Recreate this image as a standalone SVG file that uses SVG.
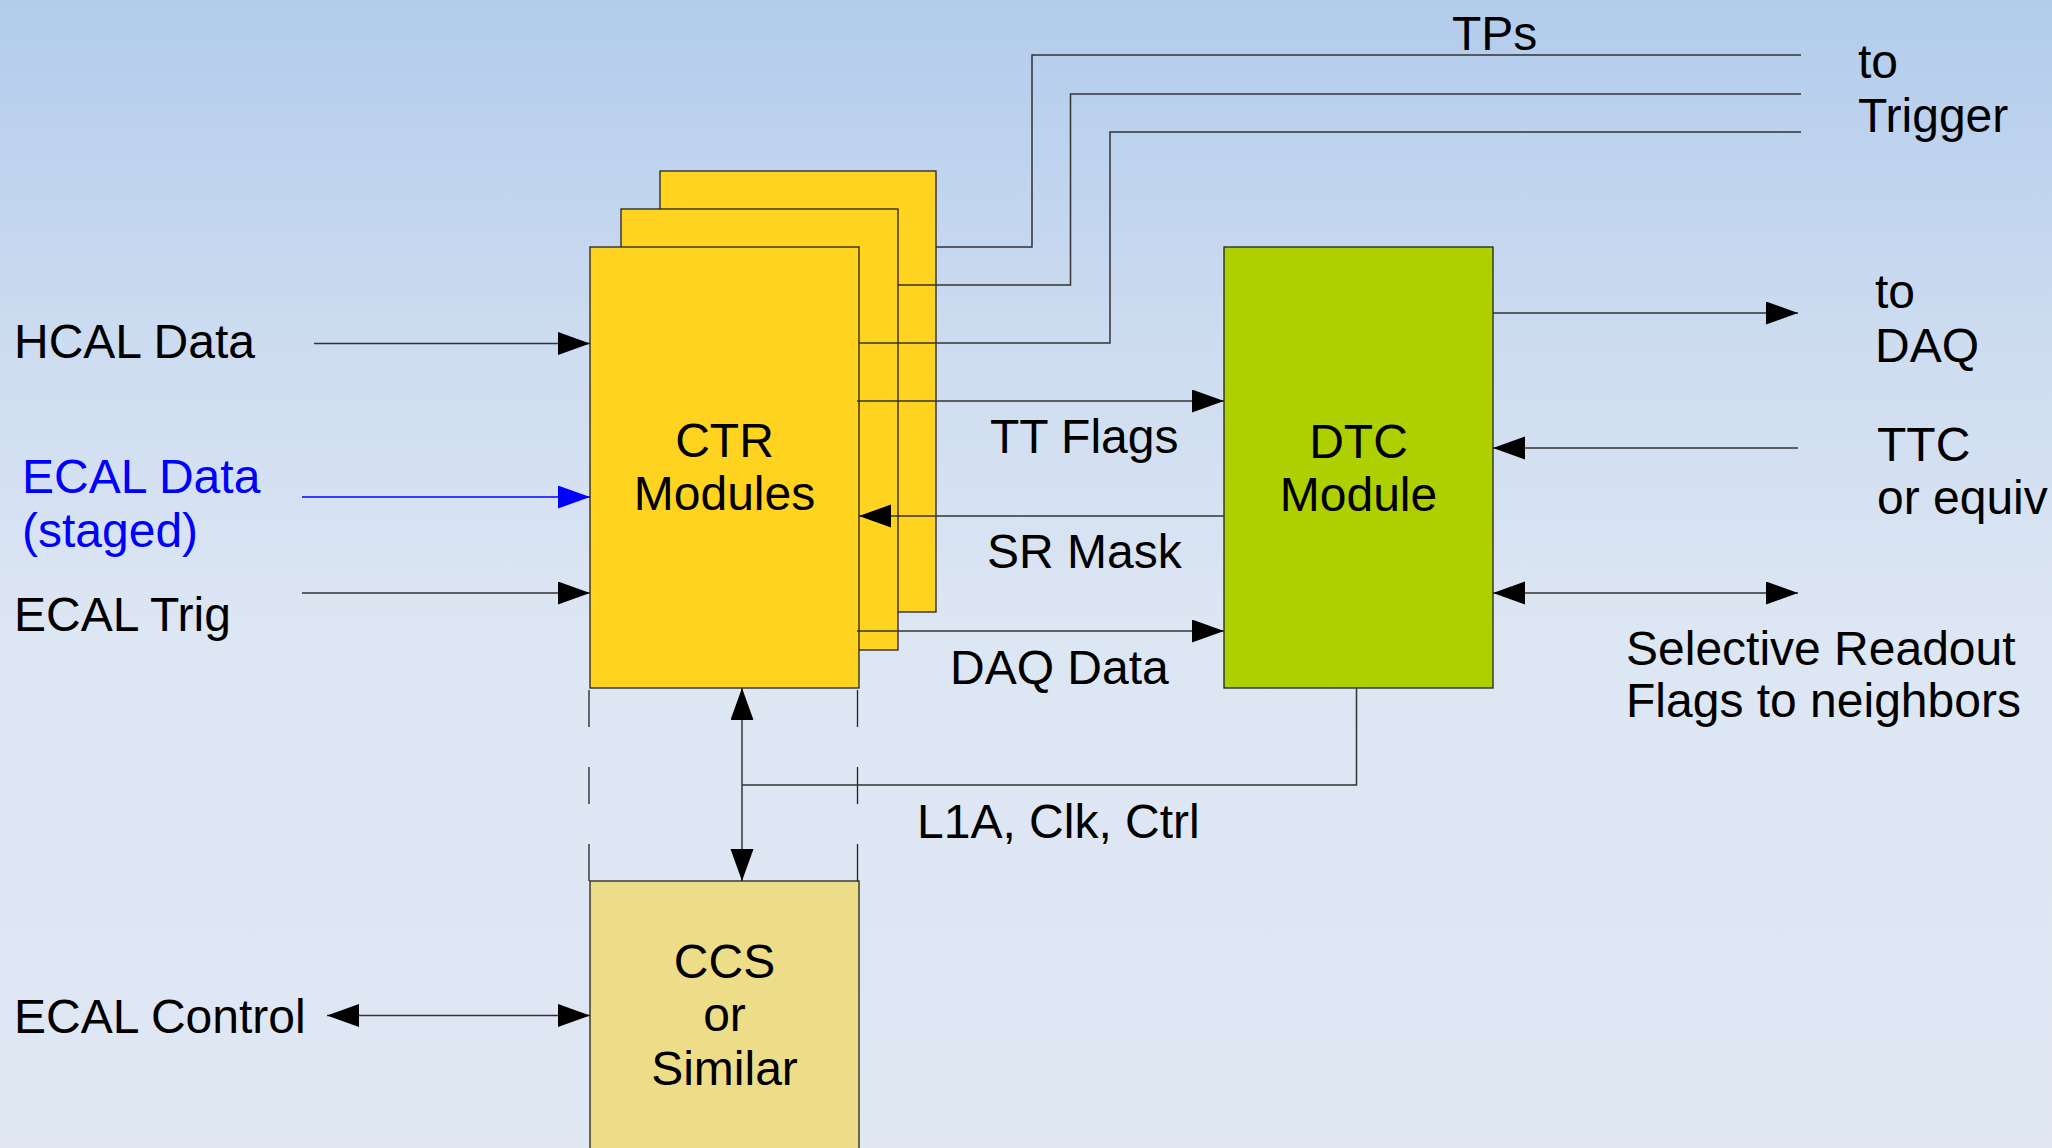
<svg xmlns="http://www.w3.org/2000/svg" width="2052" height="1148" viewBox="0 0 2052 1148">
  <defs>
    <linearGradient id="bg" x1="0" y1="0" x2="0" y2="1148" gradientUnits="userSpaceOnUse">
      <stop offset="0" stop-color="#b2ccec"/>
      <stop offset="0.3" stop-color="#cddcf0"/>
      <stop offset="0.55" stop-color="#dde6f3"/>
      <stop offset="1" stop-color="#e0e7f3"/>
    </linearGradient>
    <marker id="arr" markerUnits="userSpaceOnUse" markerWidth="33" markerHeight="24" refX="32" refY="11.5" orient="auto-start-reverse">
      <path d="M0,0 L32,11.5 L0,23 z" fill="#000"/>
    </marker>
    <marker id="arrBlue" markerUnits="userSpaceOnUse" markerWidth="33" markerHeight="24" refX="32" refY="11.5" orient="auto">
      <path d="M0,0 L32,11.5 L0,23 z" fill="#0000ff"/>
    </marker>
    <style>
      text { font-family: "Liberation Sans", Arial, sans-serif; font-size: 48px; fill: #000; }
      .blue { fill: #0000ff; }
      .mid { text-anchor: middle; }
      .box { stroke: #222; stroke-width: 1.3; }
      .ctr { fill: #ffd320; }
      .dtc { fill: #aecf00; }
      .ccs { fill: #eedd88; }
      .wire { fill: none; stroke: #333; stroke-width: 1.5; }
      .bluewire { fill: none; stroke: #0000ff; stroke-width: 1.5; }
      .dash { fill: none; stroke: #222; stroke-width: 1.3; stroke-dasharray: 37 40; }
    </style>
  </defs>

  <rect x="0" y="0" width="2052" height="1148" fill="url(#bg)"/>

  <!-- stacked CTR modules -->
  <g id="ctr-back">
    <rect class="box ctr" x="660" y="171" width="276" height="441"/>
  </g>
  <g id="ctr-middle">
    <rect class="box ctr" x="621" y="209" width="277" height="441"/>
  </g>
  <g id="ctr-front">
    <rect class="box ctr" x="590" y="247" width="269" height="441"/>
    <text class="mid" x="724.5" y="457">CTR</text>
    <text class="mid" x="724.5" y="510">Modules</text>
  </g>

  <g id="dtc">
    <rect class="box dtc" x="1224" y="247" width="269" height="441"/>
    <text class="mid" x="1358.5" y="458">DTC</text>
    <text class="mid" x="1358.5" y="511">Module</text>
  </g>

  <g id="ccs">
    <rect class="box ccs" x="590" y="881" width="269" height="280"/>
    <text class="mid" x="724.5" y="978">CCS</text>
    <text class="mid" x="724.5" y="1031">or</text>
    <text class="mid" x="724.5" y="1085">Similar</text>
  </g>

  <!-- crate outline between CTR and CCS -->
  <g id="crate-guides">
    <line class="dash" x1="589" y1="690" x2="589" y2="881"/>
    <line class="dash" x1="857.5" y1="690" x2="857.5" y2="881"/>
  </g>

  <g id="connectors">
    <!-- trigger primitives -->
    <polyline class="wire" points="936,247 1032,247 1032,55 1801,55"/>
    <polyline class="wire" points="898,285 1070.5,285 1070.5,94 1801,94"/>
    <polyline class="wire" points="859,343 1110,343 1110,132 1801,132"/>

    <!-- inputs to CTR -->
    <line class="wire" x1="314" y1="343.5" x2="590" y2="343.5" marker-end="url(#arr)"/>
    <line class="bluewire" x1="302" y1="497" x2="590" y2="497" marker-end="url(#arrBlue)"/>
    <line class="wire" x1="302" y1="593" x2="590" y2="593" marker-end="url(#arr)"/>

    <!-- CTR <-> DTC -->
    <line class="wire" x1="857" y1="401" x2="1224" y2="401" marker-end="url(#arr)"/>
    <line class="wire" x1="1224" y1="516" x2="859" y2="516" marker-end="url(#arr)"/>
    <line class="wire" x1="857" y1="631" x2="1224" y2="631" marker-end="url(#arr)"/>

    <!-- DTC outputs -->
    <line class="wire" x1="1493" y1="313" x2="1798" y2="313" marker-end="url(#arr)"/>
    <line class="wire" x1="1798" y1="448" x2="1493" y2="448" marker-end="url(#arr)"/>
    <line class="wire" x1="1493" y1="593" x2="1798" y2="593" marker-start="url(#arr)" marker-end="url(#arr)"/>

    <!-- L1A, Clk, Ctrl distribution -->
    <polyline class="wire" points="1356.5,688 1356.5,785 742,785"/>
    <line class="wire" x1="742" y1="688" x2="742" y2="881" marker-start="url(#arr)" marker-end="url(#arr)"/>

    <!-- ECAL control -->
    <line class="wire" x1="327" y1="1015.5" x2="590" y2="1015.5" marker-start="url(#arr)" marker-end="url(#arr)"/>
  </g>

  <g id="labels">
    <text x="1452" y="50">TPs</text>
    <text x="1858" y="78">to</text>
    <text x="1858" y="132">Trigger</text>
    <text x="1875" y="308">to</text>
    <text x="1875" y="362">DAQ</text>
    <text x="1877" y="461">TTC</text>
    <text x="1877" y="514">or equiv</text>
    <text x="1626" y="665">Selective Readout</text>
    <text x="1626" y="717">Flags to neighbors</text>
    <text x="990" y="453">TT Flags</text>
    <text x="987" y="568">SR Mask</text>
    <text x="950" y="684">DAQ Data</text>
    <text x="917" y="838">L1A, Clk, Ctrl</text>
    <text x="14" y="358">HCAL Data</text>
    <text class="blue" x="22" y="493">ECAL Data</text>
    <text class="blue" x="22" y="547">(staged)</text>
    <text x="14" y="631">ECAL Trig</text>
    <text x="14" y="1033">ECAL Control</text>
  </g>
</svg>
